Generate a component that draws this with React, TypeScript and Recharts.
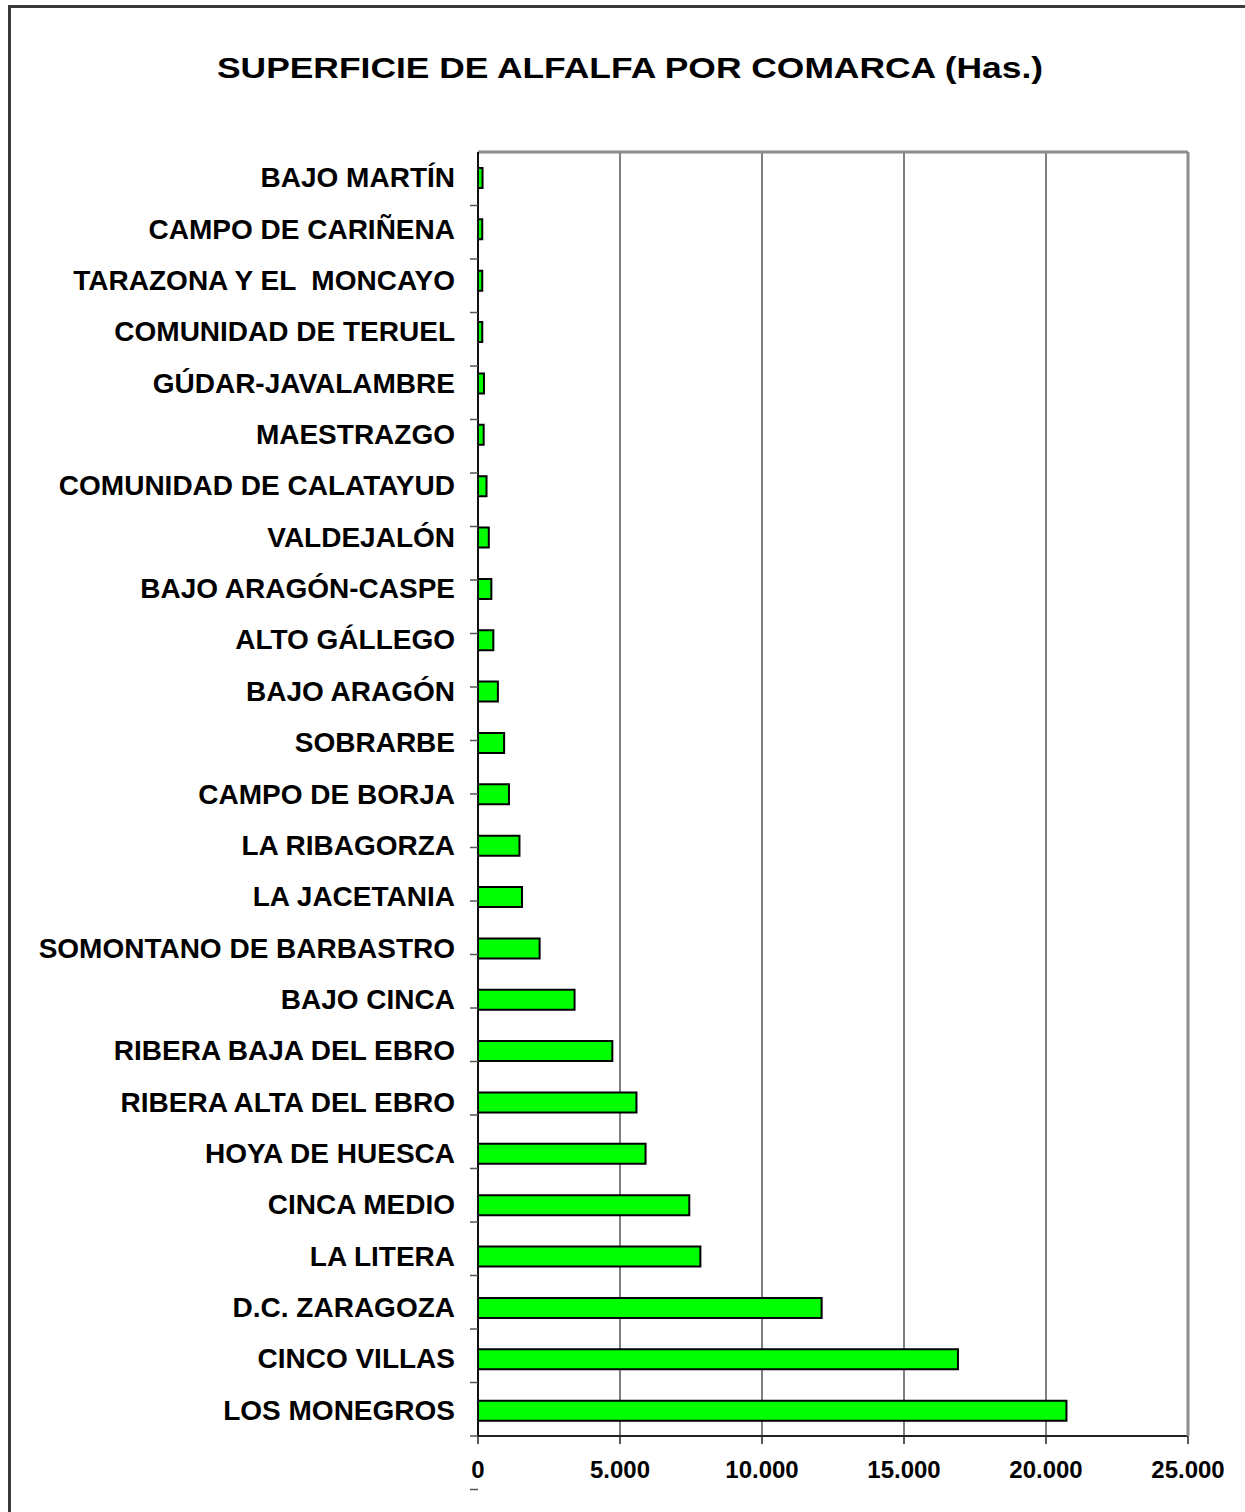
import { BarChart, Bar, XAxis, YAxis, CartesianGrid } from 'recharts';

const comarcas = [
  'BAJO MARTÍN',
  'CAMPO DE CARIÑENA',
  'TARAZONA Y EL  MONCAYO',
  'COMUNIDAD DE TERUEL',
  'GÚDAR-JAVALAMBRE',
  'MAESTRAZGO',
  'COMUNIDAD DE CALATAYUD',
  'VALDEJALÓN',
  'BAJO ARAGÓN-CASPE',
  'ALTO GÁLLEGO',
  'BAJO ARAGÓN',
  'SOBRARBE',
  'CAMPO DE BORJA',
  'LA RIBAGORZA',
  'LA JACETANIA',
  'SOMONTANO DE BARBASTRO',
  'BAJO CINCA',
  'RIBERA BAJA DEL EBRO',
  'RIBERA ALTA DEL EBRO',
  'HOYA DE HUESCA',
  'CINCA MEDIO',
  'LA LITERA',
  'D.C. ZARAGOZA',
  'CINCO VILLAS',
  'LOS MONEGROS',
];

const hectareas = [
  160, 150, 150, 150, 210, 200, 300, 380, 470, 540, 700, 920, 1090, 1460, 1550,
  2170, 3400, 4730, 5580, 5900, 7440, 7830, 12100, 16900, 20720,
];

const xTicks = [0, 5000, 10000, 15000, 20000, 25000];

// tick marks between categories, like the excel original
const bandEdges = [1, 2, 3, 4, 5, 6, 7, 8, 9, 10, 11, 12, 13, 14, 15, 16, 17, 18, 19, 20, 21, 22, 23, 24, 25];

const data = comarcas.map((name, i) => ({ name, has: hectareas[i] }));

const FONT = '"Liberation Sans", Arial, Helvetica, sans-serif';

const miles = (v: number) => String(v).replace(/\B(?=(\d{3})+(?!\d))/g, '.');

const CategoryTick = (props: any) => {
  const { x, y, payload } = props;
  return (
    <text
      x={x}
      y={y}
      textAnchor="end"
      dominantBaseline="central"
      fontFamily={FONT}
      fontSize={28}
      fontWeight="bold"
      fill="#000"
      style={{ whiteSpace: 'pre' }}
    >
      {payload.value}
    </text>
  );
};

export default function App() {
  return (
    <div style={{ position: 'absolute', left: 0, top: 0, width: 1245, height: 1512, background: '#fff', overflow: 'hidden' }}>
      <div
        style={{
          position: 'absolute',
          left: 8,
          top: 5,
          width: 1300,
          height: 1600,
          borderTop: '3px solid #3a3a3a',
          borderLeft: '3px solid #3a3a3a',
        }}
      />
      <div
        style={{
          position: 'absolute',
          left: 8,
          top: 48,
          width: 1244,
          textAlign: 'center',
          fontFamily: FONT,
          fontWeight: 'bold',
          fontSize: 30,
          lineHeight: '40px',
          color: '#000',
          transform: 'scaleX(1.18)',
          transformOrigin: '622px 0',
        }}
      >
        SUPERFICIE DE ALFALFA POR COMARCA (Has.)
      </div>
      <div style={{ position: 'absolute', left: 0, top: 0 }}>
        <BarChart
          width={1245}
          height={1512}
          data={data}
          layout="vertical"
          margin={{ top: 151, right: 56, bottom: 75, left: 0 }}
        >
          <CartesianGrid horizontal={false} stroke="#000" strokeWidth={1} />
          <XAxis
            type="number"
            domain={[0, 25000]}
            ticks={xTicks}
            allowDataOverflow
            height={1}
            axisLine={{ stroke: '#222', strokeWidth: 2 }}
            tickLine={{ stroke: '#222', strokeWidth: 1.5 }}
            tickSize={8}
            tickMargin={17}
            tickFormatter={miles}
            tick={{ fontFamily: FONT, fontSize: 24, fontWeight: 'bold', fill: '#000' }}
          />
          <XAxis
            xAxisId="top"
            orientation="top"
            type="number"
            domain={[0, 25000]}
            allowDataOverflow
            height={1}
            tick={false}
            tickLine={false}
            axisLine={{ stroke: '#8c8c8c', strokeWidth: 3 }}
          />
          <YAxis
            yAxisId={0}
            type="number"
            domain={[0, 25]}
            ticks={bandEdges}
            allowDataOverflow
            width={1}
            tickFormatter={() => ''}
            tickSize={8}
            tickLine={{ stroke: '#555', strokeWidth: 1.5 }}
            axisLine={{ stroke: '#111', strokeWidth: 2 }}
          />
          <YAxis
            yAxisId="names"
            type="category"
            dataKey="name"
            width={477}
            axisLine={false}
            tickLine={false}
            tickSize={0}
            tickMargin={22}
            interval={0}
            tick={<CategoryTick />}
          />
          <YAxis
            yAxisId="frame"
            orientation="right"
            type="number"
            domain={[0, 1]}
            allowDataOverflow
            width={1}
            tick={false}
            tickLine={false}
            axisLine={{ stroke: '#8c8c8c', strokeWidth: 3 }}
          />
          <Bar
            yAxisId="names"
            dataKey="has"
            barSize={20}
            fill="#00ff00"
            stroke="#000"
            strokeWidth={2}
            isAnimationActive={false}
          />
        </BarChart>
      </div>
    </div>
  );
}
